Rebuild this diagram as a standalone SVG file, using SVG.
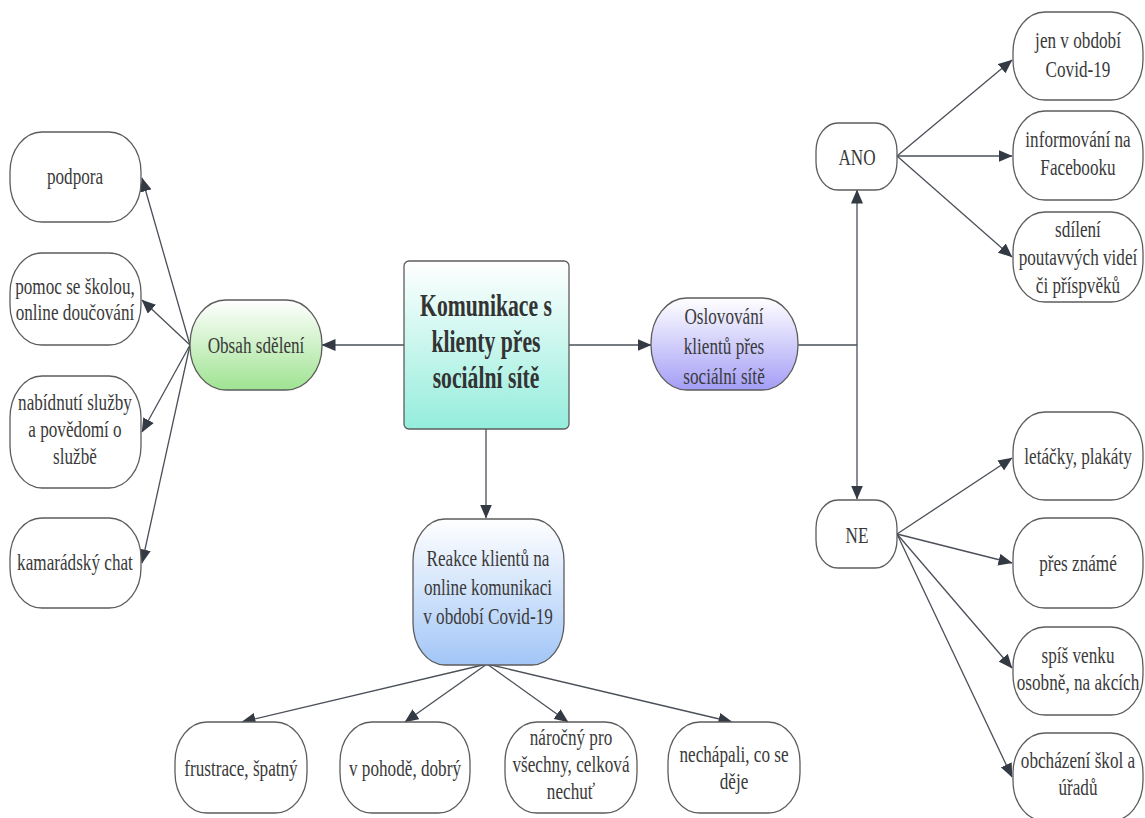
<svg xmlns="http://www.w3.org/2000/svg" width="1145" height="818" viewBox="0 0 1145 818">
<defs>
<linearGradient id="gGreen" x1="0" y1="0" x2="0" y2="1"><stop offset="0" stop-color="#ffffff"/><stop offset="1" stop-color="#9fe391"/></linearGradient>
<linearGradient id="gTeal" x1="0" y1="0" x2="0" y2="1"><stop offset="0" stop-color="#ffffff"/><stop offset="1" stop-color="#94eddc"/></linearGradient>
<linearGradient id="gPurple" x1="0" y1="0" x2="0" y2="1"><stop offset="0" stop-color="#ffffff"/><stop offset="1" stop-color="#a49ef6"/></linearGradient>
<linearGradient id="gBlue" x1="0" y1="0" x2="0" y2="1"><stop offset="0" stop-color="#ffffff"/><stop offset="1" stop-color="#a2c6f7"/></linearGradient>
<marker id="arr" viewBox="0 0 14 12" refX="13.5" refY="6" markerWidth="14" markerHeight="12" orient="auto" markerUnits="userSpaceOnUse"><path d="M0,0 L14,6 L0,12 Z" fill="#333a44"/></marker>
<style>
.box{fill:#ffffff;stroke:#5c5c5c;stroke-width:1.3}
.c{fill:none;stroke:#4a4f58;stroke-width:1.3}
.ca{fill:none;stroke:#4a4f58;stroke-width:1.3;marker-end:url(#arr)}
.t{font-family:"Liberation Serif","Times New Roman",serif;font-size:24px;fill:#3a3a3a;text-anchor:middle}
.tb{font-family:"Liberation Serif","Times New Roman",serif;font-size:31px;font-weight:bold;fill:#333333;text-anchor:middle}
</style>
</defs>
<rect width="1145" height="818" fill="#ffffff"/>

<g id="connectors">
<path class="ca" d="M404,345 L322,345"/>
<path class="ca" d="M569,345 L651,345"/>
<path class="ca" d="M486,429 L486,518"/>
<path class="ca" d="M190,345 L142,178"/>
<path class="ca" d="M190,345 L142,300"/>
<path class="ca" d="M190,345 L142,432"/>
<path class="ca" d="M190,345 L142,563"/>
<path class="c" d="M798,345 L857,345"/>
<path class="ca" d="M857,345 L857,190"/>
<path class="ca" d="M857,345 L857,499"/>
<path class="ca" d="M897,156 L1012,60"/>
<path class="ca" d="M897,156 L1012,156"/>
<path class="ca" d="M897,156 L1012,257"/>
<path class="ca" d="M897,534 L1012,458"/>
<path class="ca" d="M897,534 L1012,563"/>
<path class="ca" d="M897,534 L1012,668"/>
<path class="ca" d="M897,534 L1012,777"/>
<path class="ca" d="M487,664 L242,722"/>
<path class="ca" d="M487,664 L405,722"/>
<path class="ca" d="M487,664 L568,722"/>
<path class="ca" d="M487,664 L732,722"/>
</g>

<g id="main">
<rect x="404" y="261" width="165" height="168" rx="5" fill="url(#gTeal)" stroke="#5c5c5c" stroke-width="1.3"/>
<text class="tb" transform="translate(486,0) scale(0.7,1)"><tspan x="0" y="316">Komunikace s</tspan><tspan x="0" y="352">klienty přes</tspan><tspan x="0" y="388">sociální sítě</tspan></text>
</g>

<g id="obsah">
<rect x="190" y="300" width="132" height="90" rx="36" ry="44" fill="url(#gGreen)" stroke="#5c5c5c" stroke-width="1.3"/>
<text class="t" transform="translate(256,0) scale(0.715,1)" x="0" y="353">Obsah sdělení</text>
</g>

<g id="oslovovani">
<rect x="651" y="298" width="147" height="92" rx="36" ry="45" fill="url(#gPurple)" stroke="#5c5c5c" stroke-width="1.3"/>
<text class="t" transform="translate(724,0) scale(0.715,1)"><tspan x="0" y="324">Oslovování</tspan><tspan x="0" y="354">klientů přes</tspan><tspan x="0" y="384">sociální sítě</tspan></text>
</g>

<g id="reakce">
<rect x="413" y="519" width="151" height="146" rx="32" ry="42" fill="url(#gBlue)" stroke="#5c5c5c" stroke-width="1.3"/>
<text class="t" transform="translate(488,0) scale(0.715,1)"><tspan x="0" y="566">Reakce klientů na</tspan><tspan x="0" y="595">online komunikaci</tspan><tspan x="0" y="624">v období Covid-19</tspan></text>
</g>

<g id="podpora">
<rect class="box" x="10" y="132" width="131" height="90" rx="32" ry="40"/>
<text class="t" transform="translate(75,0) scale(0.715,1)" x="0" y="184">podpora</text>
</g>
<g id="pomoc">
<rect class="box" x="10" y="253" width="131" height="92" rx="32" ry="40"/>
<text class="t" transform="translate(75,0) scale(0.715,1)"><tspan x="0" y="294">pomoc se školou,</tspan><tspan x="0" y="320">online doučování</tspan></text>
</g>
<g id="nabidnuti">
<rect class="box" x="10" y="376" width="131" height="112" rx="32" ry="42"/>
<text class="t" transform="translate(75,0) scale(0.715,1)"><tspan x="0" y="410">nabídnutí služby</tspan><tspan x="0" y="437">a povědomí o</tspan><tspan x="0" y="464">službě</tspan></text>
</g>
<g id="kamaradsky">
<rect class="box" x="10" y="518" width="131" height="90" rx="32" ry="40"/>
<text class="t" transform="translate(75,0) scale(0.715,1)" x="0" y="570">kamarádský chat</text>
</g>

<g id="ano">
<rect class="box" x="816" y="123" width="81" height="67" rx="22" ry="28"/>
<text class="t" transform="translate(857,0) scale(0.715,1)" x="0" y="165">ANO</text>
</g>
<g id="ne">
<rect class="box" x="816" y="500" width="81" height="68" rx="22" ry="28"/>
<text class="t" transform="translate(857,0) scale(0.715,1)" x="0" y="543">NE</text>
</g>

<g id="jen">
<rect class="box" x="1013" y="12" width="130" height="88" rx="32" ry="40"/>
<text class="t" transform="translate(1078,0) scale(0.715,1)"><tspan x="0" y="48">jen v období</tspan><tspan x="0" y="77">Covid-19</tspan></text>
</g>
<g id="informovani">
<rect class="box" x="1013" y="111" width="130" height="89" rx="32" ry="40"/>
<text class="t" transform="translate(1078,0) scale(0.715,1)"><tspan x="0" y="147">informování na</tspan><tspan x="0" y="175">Facebooku</tspan></text>
</g>
<g id="sdileni">
<rect class="box" x="1013" y="212" width="130" height="90" rx="32" ry="40"/>
<text class="t" transform="translate(1078,0) scale(0.715,1)"><tspan x="0" y="237">sdílení</tspan><tspan x="0" y="265">poutavvých videí</tspan><tspan x="0" y="293">či příspvěků</tspan></text>
</g>

<g id="letacky">
<rect class="box" x="1013" y="412" width="130" height="88" rx="32" ry="40"/>
<text class="t" transform="translate(1078,0) scale(0.715,1)" x="0" y="464">letáčky, plakáty</text>
</g>
<g id="pres">
<rect class="box" x="1013" y="518" width="130" height="90" rx="32" ry="40"/>
<text class="t" transform="translate(1078,0) scale(0.715,1)" x="0" y="571">přes známé</text>
</g>
<g id="spis">
<rect class="box" x="1013" y="627" width="130" height="88" rx="32" ry="40"/>
<text class="t" transform="translate(1078,0) scale(0.715,1)"><tspan x="0" y="663">spíš venku</tspan><tspan x="0" y="690">osobně, na akcích</tspan></text>
</g>
<g id="obchazeni">
<rect class="box" x="1013" y="733" width="130" height="88" rx="32" ry="40"/>
<text class="t" transform="translate(1078,0) scale(0.715,1)"><tspan x="0" y="768">obcházení škol a</tspan><tspan x="0" y="795">úřadů</tspan></text>
</g>

<g id="frustrace">
<rect class="box" x="175" y="722" width="132" height="91" rx="32" ry="40"/>
<text class="t" transform="translate(241,0) scale(0.715,1)" x="0" y="776">frustrace, špatný</text>
</g>
<g id="pohode">
<rect class="box" x="340" y="722" width="130" height="91" rx="32" ry="40"/>
<text class="t" transform="translate(405,0) scale(0.715,1)" x="0" y="776">v pohodě, dobrý</text>
</g>
<g id="narocny">
<rect class="box" x="505" y="722" width="132" height="91" rx="32" ry="40"/>
<text class="t" transform="translate(571,0) scale(0.715,1)"><tspan x="0" y="745">náročný pro</tspan><tspan x="0" y="772">všechny, celková</tspan><tspan x="0" y="799">nechuť</tspan></text>
</g>
<g id="nechapali">
<rect class="box" x="668" y="722" width="132" height="91" rx="32" ry="40"/>
<text class="t" transform="translate(734,0) scale(0.715,1)"><tspan x="0" y="762">nechápali, co se</tspan><tspan x="0" y="789">děje</tspan></text>
</g>
</svg>
